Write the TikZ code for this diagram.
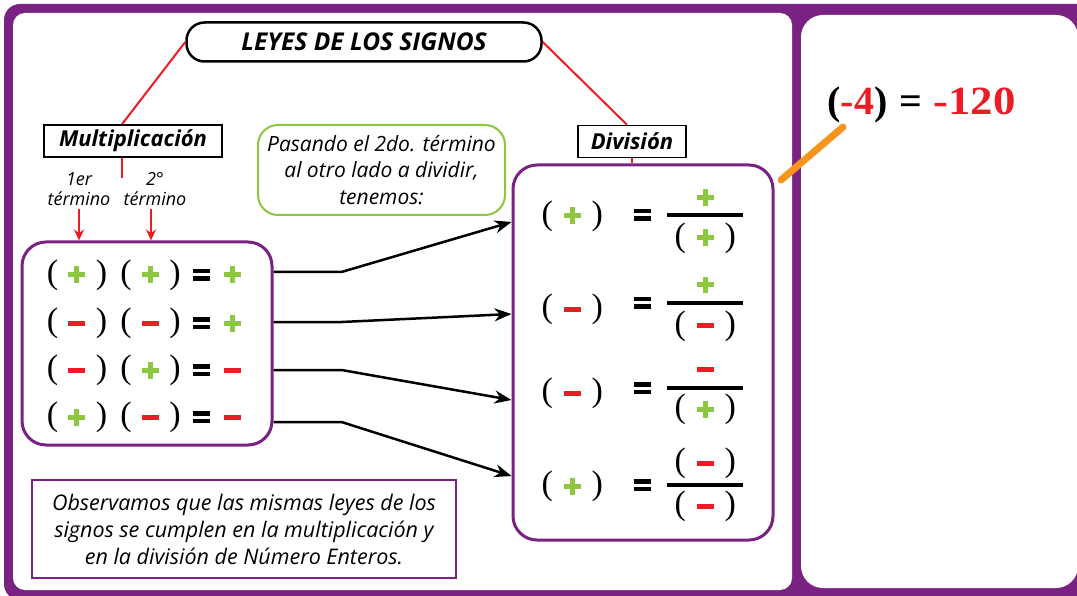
\documentclass[tikz,border=0pt]{standalone}
\usepackage{fontspec}
\setmainfont{Open Sans}
\newfontfamily\signfont{Liberation Serif}
\usetikzlibrary{arrows.meta}

\definecolor{framepurple}{RGB}{122,34,130}
\definecolor{signgreen}{RGB}{141,198,63}
\definecolor{signred}{RGB}{237,28,36}
\definecolor{linkorange}{RGB}{247,148,29}

% sign pieces, centred 8.8pt above the baseline
\newcommand{\pp}{\textcolor{signgreen}{\rlap{\rule[6.3pt]{17pt}{5pt}}\hspace*{6pt}\rule[0.3pt]{5pt}{17pt}\hspace*{6pt}}}
\newcommand{\mm}{\textcolor{signred}{\rule[6.3pt]{17pt}{5pt}}}
\newcommand{\eqs}{\rlap{\rule[2.8pt]{17pt}{4.5pt}}\rule[10.3pt]{17pt}{4.5pt}}
\newcommand{\cel}[2][24.5pt]{\makebox[#1]{#2}}
\newcommand{\grp}[1]{\cel[25pt]{(}\cel[25pt]{#1}\cel[25pt]{)}}

\tikzset{
  titlebox/.style={draw, line width=2.5pt, rounded corners=18pt, minimum width=355pt,
    minimum height=39pt, font=\fontsize{24.5}{24.5}\selectfont\bfseries\itshape},
  labelbox/.style={draw, line width=1.5pt, minimum height=32pt,
    font=\fontsize{22}{22}\selectfont\bfseries\itshape},
  termtext/.style={align=center, font=\fontsize{18}{20}\selectfont\itshape},
  notebox/.style={draw=signgreen, line width=2pt, rounded corners=20pt, align=center,
    font=\fontsize{21}{26.5}\selectfont\itshape},
  signbox/.style={draw=framepurple, line width=3pt, rounded corners=24pt},
  obsbox/.style={draw=framepurple, line width=1.5pt, align=center,
    font=\fontsize{21.5}{27}\selectfont\itshape},
  signrow/.style={anchor=base west, inner sep=0pt, font=\signfont\fontsize{34}{34}\selectfont},
  redlink/.style={signred, line width=2pt},
  maparrow/.style={line width=2.5pt, -{Stealth[length=17pt,width=13pt]}},
  fracbar/.style={line width=4pt}
}

\begin{document}
\begin{tikzpicture}[x=1pt, y=-1pt]
    \useasboundingbox (0,0) rectangle (1077,596);

    % Frame and panels
    \fill[framepurple, rounded corners=16pt] (4,4) rectangle (1095,600);
    \fill[white, rounded corners=12pt] (13,13) rectangle (792,590);
    \fill[white, rounded corners=22pt] (801,15) rectangle (1078,588);

    % Titles
    \node[titlebox] (title) at (364,42) {LEYES DE LOS SIGNOS};
    \node[labelbox, minimum width=178pt] (multlabel) at (133,141) {Multiplicación};
    \node[labelbox, minimum width=108pt] (divlabel) at (632,141.5) {División};
    \draw[redlink] (title.west) -- ([xshift=-11pt]multlabel.north);
    \draw[redlink] (title.east) -- ([xshift=-5pt]divlabel.north);
    \draw[redlink] ([xshift=-11pt]multlabel.south) -- ++(0,20);

    % First and second term
    \node[termtext] (term1) at (79,189) {1er\\término};
    \node[termtext] (term2) at (155,189) {2°\\término};

    % Boxes
    \node[signbox, minimum width=250pt, minimum height=203pt] (multbox) at (147,343.5) {};
    \node[signbox, minimum width=260pt, minimum height=375pt] (divbox) at (643,352.5) {};
    \draw[redlink] (divlabel.south) -- (divlabel.south |- divbox.north);
    \draw[redlink, -{Stealth[length=11pt,width=10pt]}] (term1.south) -- (term1.south |- multbox.north);
    \draw[redlink, -{Stealth[length=11pt,width=10pt]}] ([xshift=-4pt]term2.south) -- ([xshift=-4pt]term2.south |- multbox.north);

    \node[notebox, minimum width=247pt, minimum height=90pt] (passnote) at (381.5,170)
      {Pasando el 2do. término\\al otro lado a dividir,\\tenemos:};
    \node[obsbox, minimum width=424pt, minimum height=98pt] (obsnote) at (244,529)
      {Observamos que las mismas leyes de los\\signos se cumplen en la multiplicación y\\en la división de Número Enteros.};

    % Multiplication rows
    \node[signrow] (mrow1) at (40,283.8) {\cel{(}\cel{\pp}\cel{)}\cel{(}\cel{\pp}\cel{)}\cel[28pt]{\eqs}\cel[34pt]{\pp}};
    \node[signrow] (mrow2) at (40,331.8) {\cel{(}\cel{\mm}\cel{)}\cel{(}\cel{\mm}\cel{)}\cel[28pt]{\eqs}\cel[34pt]{\pp}};
    \node[signrow] (mrow3) at (40,378.8) {\cel{(}\cel{\mm}\cel{)}\cel{(}\cel{\pp}\cel{)}\cel[28pt]{\eqs}\cel[34pt]{\mm}};
    \node[signrow] (mrow4) at (40,425.8) {\cel{(}\cel{\pp}\cel{)}\cel{(}\cel{\mm}\cel{)}\cel[28pt]{\eqs}\cel[34pt]{\mm}};

    % Division rows
    \node[signrow] (drow1) at (534.5,224.8) {\grp{\pp}};
    \node[signrow, anchor=base] (deq1) at (642,223.8) {\eqs};
    \node[signrow, anchor=base] (dnum1) at (705,206.8) {\pp};
    \draw[fracbar] (667,215) -- (743,215);
    \node[signrow] (dden1) at (667.5,246.8) {\grp{\pp}};

    \node[signrow] (drow2) at (534.5,317.8) {\grp{\mm}};
    \node[signrow, anchor=base] (deq2) at (642,311.8) {\eqs};
    \node[signrow, anchor=base] (dnum2) at (705,293.8) {\pp};
    \draw[fracbar] (667,303) -- (743,303);
    \node[signrow] (dden2) at (667.5,334.8) {\grp{\mm}};

    \node[signrow] (drow3) at (534.5,401.8) {\grp{\mm}};
    \node[signrow, anchor=base] (deq3) at (642,396.8) {\eqs};
    \node[signrow, anchor=base] (dnum3) at (705,377.8) {\mm};
    \draw[fracbar] (667,388) -- (743,388);
    \node[signrow] (dden3) at (667.5,417.8) {\grp{\pp}};

    \node[signrow] (drow4) at (534.5,494.8) {\grp{\pp}};
    \node[signrow, anchor=base] (deq4) at (642,493.8) {\eqs};
    \node[signrow] (dnum4) at (667.5,471.8) {\grp{\mm}};
    \draw[fracbar] (667,485) -- (743,485);
    \node[signrow] (dden4) at (667.5,514.8) {\grp{\mm}};

    % From multiplication to division
    \draw[maparrow] (multbox.east |- 0,272) -- ++(68,0) -- (divbox.west |- 0,222);
    \draw[maparrow] (multbox.east |- 0,322) -- ++(68,0) -- (divbox.west |- 0,314);
    \draw[maparrow] (multbox.east |- 0,370) -- ++(68,0) -- (divbox.west |- 0,400);
    \draw[maparrow] (multbox.east |- 0,422) -- ++(68,0) -- (divbox.west |- 0,476);

    % Worked example
    \node[anchor=base west, font=\signfont\bfseries\fontsize{40}{40}\selectfont] (result) at (824,115)
      {(\textcolor{signred}{-4})\hspace{12pt}=\hspace{11pt}\textcolor{signred}{\scalebox{1.12}[1]{-120}}};
    \coordinate (linkstart) at (781,180);
    \draw[linkorange, line width=7pt, line cap=round] (linkstart) -- ([xshift=19pt]result.south west);
\end{tikzpicture}
\end{document}
